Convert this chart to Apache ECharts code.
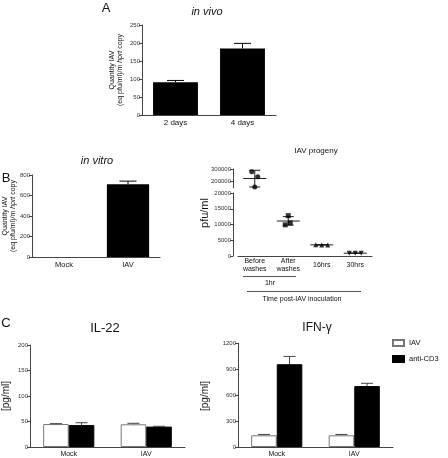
<!DOCTYPE html>
<html><head><meta charset="utf-8">
<script src="https://cdn.jsdelivr.net/npm/echarts@6/dist/echarts.min.js"></script>
<style>html,body{margin:0;padding:0;background:#fff}#c{width:448px;height:458px}</style>
</head><body><div id="c"></div>
<script>
// ---------- Panel A: in vivo ----------
const vivoCategories = ['2 days', '4 days'];
const vivoValues = [91, 185];
const vivoErrors = [5, 14];
const vivoTicks = [0, 50, 100, 150, 200, 250];

// ---------- Panel B left: in vitro ----------
const vitroCategories = ['Mock', 'IAV'];
const vitroValues = [0, 710];
const vitroErrors = [null, 30];
const vitroTicks = [0, 200, 400, 600, 800];

// ---------- Panel B right: IAV progeny ----------
const progenyCategories = ['Before\nwashes', 'After\nwashes', '16hrs', '30hrs'];
const progenyValues = [
  [279000, 239000, 158000],
  [12800, 9900, 10500],
  [3600, 3500, 3500],
  [900, 880, 900]
];
const progenyMean = [225000, 11100, 3530, 890];
const progenyLow = [158000, 9800, 3450, 840];
const progenyHigh = [290000, 12500, 3620, 950];
const progenyTopTicks = [200000, 300000];
const progenyBottomTicks = [0, 5000, 10000, 15000, 20000];

// ---------- Panel C ----------
const cytoCategories = ['Mock', 'IAV'];
const seriesNames = ['IAV', 'anti-CD3'];
const il22IAV = [45, 44.5];
const il22IAVErr = [0.8, 2];
const il22CD3 = [43, 40];
const il22CD3Err = [4.6, 0.6];
const il22Ticks = [0, 50, 100, 150, 200];
const ifnIAV = [135, 135];
const ifnIAVErr = [10, 10];
const ifnCD3 = [955, 703];
const ifnCD3Err = [90, 32];
const ifnTicks = [0, 300, 600, 900, 1200];

// ---------- styling ----------
const F = 'Liberation Sans, Arial, sans-serif';
const AX = '#444';
const JITTER = [[-3, 3, 0], [0, -3, 2], [-6, 0, 6], [-6, 0, 6]];
const SYMBOLS = ['circle', 'rect', 'triangle', 'triangle'];
const ROT = [0, 0, 0, 180];

const chart = echarts.init(document.getElementById('c'), null, {renderer: 'canvas'});

function yAx(grid, min, max, interval, extra) {
  return Object.assign({
    type: 'value', gridIndex: grid, min: min, max: max, interval: interval,
    splitLine: {show: false},
    axisLine: {show: true, lineStyle: {color: AX, width: 1}},
    axisTick: {show: true, length: 3, lineStyle: {color: AX}},
    axisLabel: {fontSize: 6, color: '#333', fontFamily: F, margin: 2, formatter: v => String(v)}
  }, extra || {});
}
function xAx(grid, cats, fontSize, extra) {
  return Object.assign({
    type: 'category', gridIndex: grid, data: cats,
    axisLine: {show: true, lineStyle: {color: AX, width: 1}},
    axisTick: {show: false},
    axisLabel: {fontSize: fontSize, color: '#111', fontFamily: F, margin: 4, interval: 0}
  }, extra || {});
}

function errRender(offsetFrac, capW, color) {
  return function (params, api) {
    const e = api.value(2);
    if (e == null || isNaN(e) || e === 0) return null;
    const x = api.value(0), v = api.value(1);
    const base = api.coord([x, v]);
    const top = api.coord([x, v + e]);
    const band = api.size([1, 0])[0];
    const cx = base[0] + band * offsetFrac;
    const st = {stroke: color, lineWidth: 1};
    return {type: 'group', children: [
      {type: 'line', shape: {x1: cx, y1: base[1], x2: cx, y2: top[1]}, style: st},
      {type: 'line', shape: {x1: cx - capW / 2, y1: top[1], x2: cx + capW / 2, y2: top[1]}, style: st}
    ]};
  };
}
function errData(vals, errs) { return vals.map((v, i) => [i, v, errs[i]]); }

function whiskerRender(params, api) {
  const x = api.value(0);
  const m = api.coord([x, api.value(1)]);
  const lo = api.coord([x, api.value(2)]);
  const hi = api.coord([x, api.value(3)]);
  const st = {stroke: '#222', lineWidth: 1};
  return {type: 'group', children: [
    {type: 'line', shape: {x1: m[0] - 11.5, y1: m[1], x2: m[0] + 11.5, y2: m[1]}, style: st},
    {type: 'line', shape: {x1: m[0], y1: lo[1], x2: m[0], y2: hi[1]}, style: st},
    {type: 'line', shape: {x1: m[0] - 5.5, y1: lo[1], x2: m[0] + 5.5, y2: lo[1]}, style: st},
    {type: 'line', shape: {x1: m[0] - 5.5, y1: hi[1], x2: m[0] + 5.5, y2: hi[1]}, style: st}
  ]};
}

const series = [];
// Panel A bars
series.push({type: 'bar', xAxisIndex: 0, yAxisIndex: 0, data: vivoValues, barWidth: '67%',
  itemStyle: {color: '#000'}, silent: true});
series.push({type: 'custom', xAxisIndex: 0, yAxisIndex: 0, data: errData(vivoValues, vivoErrors),
  renderItem: errRender(0, 17, '#000'), z: 5, silent: true});
// Panel B left bars
series.push({type: 'bar', xAxisIndex: 1, yAxisIndex: 1, data: vitroValues, barWidth: '66%',
  itemStyle: {color: '#000'}, silent: true});
series.push({type: 'custom', xAxisIndex: 1, yAxisIndex: 1, data: errData(vitroValues, vitroErrors),
  renderItem: errRender(0, 17, '#000'), z: 5, silent: true});
// Panel B right: scatter points + mean/SD whiskers (top segment for large values)
progenyValues.forEach((vals, ci) => {
  const top = progenyMean[ci] >= 150000;
  series.push({type: 'custom', xAxisIndex: top ? 2 : 3, yAxisIndex: top ? 2 : 3,
    data: [[ci, progenyMean[ci], progenyLow[ci], progenyHigh[ci]]],
    renderItem: whiskerRender, z: 3, silent: true});
  vals.forEach((v, k) => {
    series.push({type: 'scatter', xAxisIndex: top ? 2 : 3, yAxisIndex: top ? 2 : 3,
      data: [[ci, v]], symbol: SYMBOLS[ci], symbolRotate: ROT[ci], symbolSize: 5,
      symbolOffset: [JITTER[ci][k], 0], itemStyle: {color: '#000'}, z: 4, silent: true});
  });
});
// Panel C
function cyto(axis, a, aErr, b, bErr) {
  series.push({type: 'bar', name: seriesNames[0], xAxisIndex: axis, yAxisIndex: axis, data: a,
    barGap: '0%', barCategoryGap: '34%', itemStyle: {color: '#fff', borderColor: '#777', borderWidth: 1}, silent: true});
  series.push({type: 'bar', name: seriesNames[1], xAxisIndex: axis, yAxisIndex: axis, data: b,
    barGap: '0%', barCategoryGap: '34%', itemStyle: {color: '#000', borderColor: '#000', borderWidth: 1}, silent: true});
  series.push({type: 'custom', xAxisIndex: axis, yAxisIndex: axis, data: errData(a, aErr),
    renderItem: errRender(-0.165, 12, '#444'), z: 5, silent: true});
  series.push({type: 'custom', xAxisIndex: axis, yAxisIndex: axis, data: errData(b, bErr),
    renderItem: errRender(0.165, 12, '#444'), z: 5, silent: true});
}
cyto(4, il22IAV, il22IAVErr, il22CD3, il22CD3Err);
cyto(5, ifnIAV, ifnIAVErr, ifnCD3, ifnCD3Err);

function T(x, y, text, size, style, rot) {
  return {type: 'text', x: x, y: y, rotation: rot || 0, silent: true,
    style: Object.assign({text: text, fontSize: size, fontFamily: F, fill: '#111',
      align: 'center', verticalAlign: 'middle'}, style || {})};
}
function L(x1, y1, x2, y2) {
  return {type: 'line', silent: true, shape: {x1: x1, y1: y1, x2: x2, y2: y2}, style: {stroke: '#555', lineWidth: 1}};
}
const quantTitle = '{a|Quantity IAV}\n{a|(eq pfu/ml)/m }{i|hprt}{a| copy}';
const quantRich = {a: {fontSize: 7, fontFamily: F, lineHeight: 8.5}, i: {fontSize: 7, fontFamily: F, fontStyle: 'italic', lineHeight: 8.5}};

const option = {
  animation: false,
  backgroundColor: '#fff',
  grid: [
    {left: 142, top: 25, width: 134, height: 90},
    {left: 32, top: 175, width: 128, height: 82},
    {left: 238, top: 169, width: 134, height: 19},
    {left: 238, top: 193, width: 134, height: 63},
    {left: 30, top: 345, width: 155, height: 102},
    {left: 238, top: 343, width: 155, height: 104}
  ],
  xAxis: [
    xAx(0, vivoCategories, 8),
    xAx(1, vitroCategories, 7.5),
    xAx(2, progenyCategories, 7, {show: false}),
    xAx(3, progenyCategories, 7, {axisLabel: {fontSize: 7, color: '#111', fontFamily: F, margin: 9, interval: 0, verticalAlign: 'middle', lineHeight: 8}}),
    xAx(4, cytoCategories, 7),
    xAx(5, cytoCategories, 7)
  ],
  yAxis: [
    yAx(0, 0, 250, 50),
    yAx(1, 0, 800, 200),
    yAx(2, 150000, 300000, 50000, {offset: 5,
      axisTick: {show: true, length: 3, lineStyle: {color: AX}, customValues: progenyTopTicks},
      axisLabel: {fontSize: 6, color: '#333', fontFamily: F, margin: 2, formatter: v => String(v), customValues: progenyTopTicks}}),
    yAx(3, 0, 20000, 5000, {offset: 5}),
    yAx(4, 0, 200, 50),
    yAx(5, 0, 1200, 300)
  ],
  legend: {
    data: seriesNames, left: 392, top: 339, orient: 'vertical', itemWidth: 11, itemHeight: 6,
    itemGap: 8, icon: 'rect', padding: [0, 0, 0, 0], textStyle: {fontSize: 7.5, fontFamily: F, color: '#111'}, selectedMode: false
  },
  series: series,
  graphic: [
    T(106, 8, 'A', 13),
    T(207, 12, 'in vivo', 11, {fontStyle: 'italic'}),
    T(116, 70, quantTitle, 7, {rich: quantRich}, Math.PI / 2),
    T(6, 178, 'B', 13),
    T(97, 161, 'in vitro', 11, {fontStyle: 'italic'}),
    T(9, 216, quantTitle, 7, {rich: quantRich}, Math.PI / 2),
    T(316, 151, 'IAV progeny', 8),
    T(205, 213, 'pfu/ml', 11, null, Math.PI / 2),
    L(243, 276.5, 296, 276.5),
    T(270, 283, '1hr', 7),
    L(247, 291.5, 361, 291.5),
    T(302, 299, 'Time post-IAV inoculation', 7),
    T(6, 323, 'C', 13),
    T(105, 328, 'IL-22', 13),
    T(317, 328, 'IFN-γ', 12),
    T(6, 396, '[pg/ml]', 10, null, Math.PI / 2),
    T(205, 396, '[pg/ml]', 10, null, Math.PI / 2)
  ]
};
chart.setOption(option);
</script></body></html>
